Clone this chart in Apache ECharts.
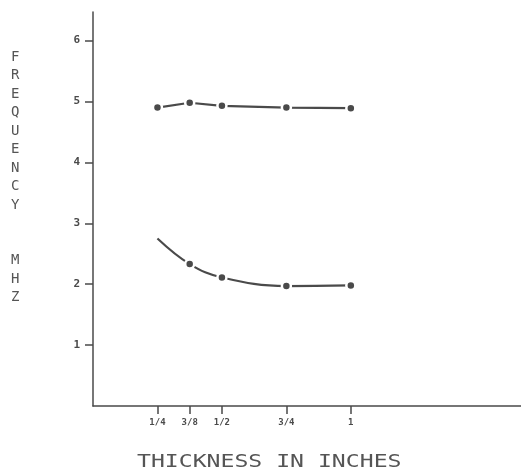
<!DOCTYPE html>
<html>
<head>
<meta charset="utf-8">
<script src="https://cdn.jsdelivr.net/npm/echarts@6/dist/echarts.min.js"></script>
<style>html,body{margin:0;padding:0;background:#fff}#c{width:521px;height:470px}</style>
</head>
<body>
<div id="c"></div>
<script>
const thickness = [0.25, 0.375, 0.5, 0.75, 1];
const upperFreq = [4.90, 4.98, 4.93, 4.90, 4.89];
const lowerFreq = [2.75, 2.33, 2.11, 1.97, 1.98];
const xTickValues = [0.25, 0.375, 0.5, 0.75, 1];
const xTickLabels = ['1/4', '3/8', '1/2', '3/4', '1'];
const yTickValues = [1, 2, 3, 4, 5, 6];
const yTitle = 'FREQUENCY  MHZ';
const xTitle = 'THICKNESS IN INCHES';

const ink = '#4a4a4a';
const chart = echarts.init(document.getElementById('c'));
const pair = (xs, ys) => xs.map((x, i) => [x, ys[i]]);
const stacked = yTitle.split('').map(c => c === ' ' ? '' : c).join('\n');

chart.setOption({
  animation: false,
  backgroundColor: '#fff',
  grid: { left: 93, right: 0, top: 12, bottom: 64 },
  xAxis: {
    type: 'value', min: 0, max: 1.66,
    axisLine: { show: true, lineStyle: { color: ink, width: 1.5 } },
    axisTick: { show: true, customValues: xTickValues, length: 8, lineStyle: { color: ink, width: 1.5 } },
    axisLabel: {
      customValues: xTickValues, margin: 12, color: ink, fontSize: 9,
      fontFamily: 'DejaVu Sans Mono', fontWeight: 'bold',
      formatter: v => xTickLabels[xTickValues.indexOf(v)]
    },
    splitLine: { show: false }
  },
  yAxis: {
    type: 'value', min: 0, max: 6.47,
    axisLine: { show: true, lineStyle: { color: ink, width: 1.5 } },
    axisTick: { show: true, customValues: yTickValues, length: 8, lineStyle: { color: ink, width: 1.5 } },
    axisLabel: {
      customValues: yTickValues, margin: 13, color: ink, fontSize: 11,
      fontFamily: 'DejaVu Sans Mono', fontWeight: 'bold'
    },
    splitLine: { show: false }
  },
  graphic: [
    {
      type: 'text', left: 11, top: 48,
      style: { text: stacked, fill: '#555', font: '14px "DejaVu Sans Mono"', lineHeight: 18.5, align: 'center' }
    },
    {
      type: 'text', x: 137, y: 454, scaleX: 1.36,
      style: { text: xTitle, fill: '#555', font: '17px "DejaVu Sans Mono"' }
    }
  ],
  series: [
    {
      type: 'line', data: pair(thickness, upperFreq), smooth: false,
      lineStyle: { color: ink, width: 2.2 },
      symbol: 'circle', symbolSize: 9,
      itemStyle: { color: ink, borderColor: '#fff', borderWidth: 2.5 }
    },
    {
      type: 'line', data: pair(thickness, lowerFreq), smooth: 0.4,
      lineStyle: { color: ink, width: 2.2 },
      symbol: 'circle',
      symbolSize: (v, p) => p.dataIndex === 0 ? 0 : 9,
      itemStyle: { color: ink, borderColor: '#fff', borderWidth: 2.5 }
    }
  ]
});
</script>
</body>
</html>
